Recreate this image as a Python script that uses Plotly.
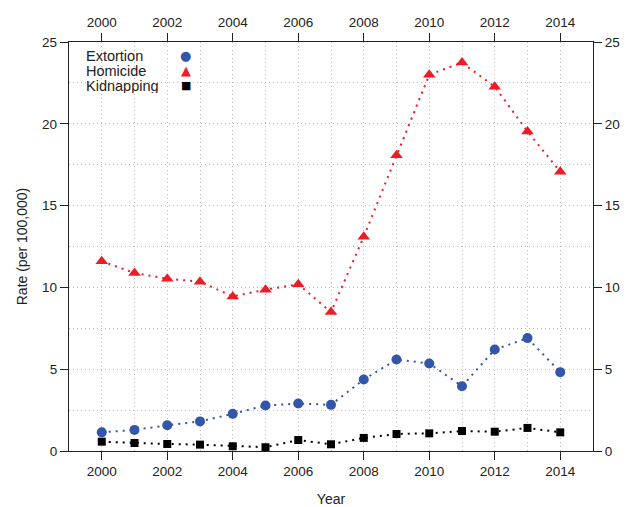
import plotly.graph_objects as go

years = list(range(2000, 2015))
extortion = [1.14, 1.29, 1.57, 1.81, 2.27, 2.78, 2.90, 2.82, 4.37, 5.59, 5.35, 3.96, 6.20, 6.90, 4.82]
homicide = [11.6, 10.88, 10.53, 10.35, 9.45, 9.86, 10.19, 8.49, 13.1, 18.08, 23.0, 23.74, 22.27, 19.53, 17.07]
kidnapping = [0.57, 0.49, 0.43, 0.39, 0.29, 0.23, 0.67, 0.41, 0.80, 1.04, 1.08, 1.22, 1.18, 1.41, 1.14]

series_names = ["Extortion", "Homicide", "Kidnapping"]
colors = ["#3355aa", "#ee1c25", "#000000"]
symbols = ["circle", "triangle-up", "square"]
sizes = [10, 11, 8]
glyphs = ["\u25cf", "\u25b2", "\u25a0"]

FONT = "Liberation Sans, Arial, Helvetica, sans-serif"
GRID = "#bdbdbd"

fig = go.Figure()
for name, vals, col, sym, sz in zip(series_names, [extortion, homicide, kidnapping], colors, symbols, sizes):
    fig.add_trace(go.Scatter(
        x=years, y=vals, name=name, mode="lines+markers",
        line=dict(color=col, width=2, dash="2px,5px"),
        marker=dict(symbol=sym, size=sz, color=col),
        showlegend=False,
    ))

axis_common = dict(
    showline=True, linecolor="#222222", linewidth=1.3,
    ticks="outside", ticklen=8, tickcolor="#222222", tickwidth=1.3,
    tickfont=dict(size=13.5, color="#222222", family=FONT),
    zeroline=False, automargin=False,
)

fig.update_layout(
    width=635, height=507,
    margin=dict(l=69, r=42, t=42, b=56),
    paper_bgcolor="white", plot_bgcolor="white",
    font=dict(family=FONT, color="#222222"),
    xaxis=dict(
        range=[1999, 2015], tickvals=list(range(2000, 2015, 2)),
        showgrid=True, gridcolor=GRID, griddash="1px,3px", gridwidth=1,
        minor=dict(dtick=1, tick0=2000, showgrid=True, gridcolor=GRID, griddash="1px,3px", ticks=""),
        mirror=True,
        title=dict(text="Year", font=dict(size=14), standoff=16),
        **axis_common,
    ),
    xaxis2=dict(
        range=[1999, 2015], tickvals=list(range(2000, 2015, 2)),
        overlaying="x", side="top", showgrid=False, matches="x",
        **axis_common,
    ),
    yaxis=dict(
        range=[0, 25], tickvals=[0, 5, 10, 15, 20, 25],
        showgrid=True, gridcolor=GRID, griddash="1px,3px", gridwidth=1,
        minor=dict(dtick=2.5, tick0=0, showgrid=True, gridcolor=GRID, griddash="1px,3px", ticks=""),
        mirror=True,
        title=dict(text="Rate (per 100,000)", font=dict(size=14), standoff=11),
        **axis_common,
    ),
    yaxis2=dict(
        range=[0, 25], tickvals=[0, 5, 10, 15, 20, 25],
        overlaying="y", side="right", showgrid=False, matches="y",
        **axis_common,
    ),
)

# invisible trace to activate the secondary (top / right) axes
fig.add_trace(go.Scatter(x=[years[0]], y=[extortion[0]], xaxis="x2", yaxis="y2",
                         mode="markers", marker=dict(opacity=0), showlegend=False, hoverinfo="skip"))

# legend (text left, symbol right, as in reference)
for i, (name, col, g) in enumerate(zip(series_names, colors, glyphs)):
    ypos = 0.968 - i * 0.0375
    fig.add_annotation(xref="paper", yref="paper", x=0.028, y=ypos, text=name,
                       showarrow=False, xanchor="left", yanchor="middle", height=15,
                       font=dict(size=14.5, color="#222222", family=FONT))
    fig.add_annotation(xref="paper", yref="paper", x=0.223, y=ypos, text=g,
                       showarrow=False, xanchor="center", yanchor="middle", height=15,
                       font=dict(size=13 if i != 2 else 11, color=col, family="DejaVu Sans"))

fig.write_html("out.html", config={"displayModeBar": False},
               post_script="document.body.style.margin='0';document.body.style.overflow='hidden';")
